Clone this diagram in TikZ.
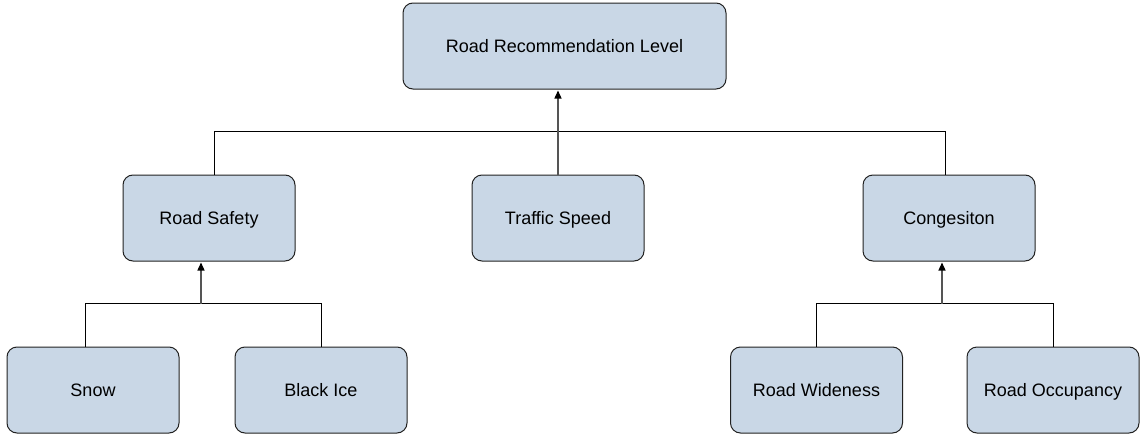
\documentclass[tikz,border=0pt]{standalone}
\usepackage{fontspec}
\setmainfont{Liberation Sans}
\usetikzlibrary{arrows.meta}
\definecolor{boxfill}{HTML}{C9D7E6}
\definecolor{boxline}{HTML}{222222}
\definecolor{arrowline}{HTML}{555555}
\begin{document}
\begin{tikzpicture}[x=1pt,y=1pt,
  box/.style={draw=boxline, fill=boxfill, line width=1pt, rounded corners=10pt,
    minimum width=172pt, minimum height=86pt, inner sep=0pt,
    text height=13pt, text depth=0pt, font=\fontsize{18}{21}\selectfont},
  bus/.style={draw=black, line width=1pt},
  feed/.style={draw=arrowline, line width=1.3pt,
    -{Triangle[length=8pt,width=7pt,color=black]}, shorten >=1pt}]
\useasboundingbox (0,0) rectangle (1144,-434);
\fill[white] (0,0) rectangle (1144,-434);

% top level
\node[box, minimum width=323pt] (top) at (564.5,-46) {Road Recommendation Level};
% middle level
\node[box] (safety) at (209,-218) {Road Safety};
\node[box] (speed)  at (558,-218) {Traffic Speed};
\node[box] (cong)   at (949,-218) {Congesiton};
% bottom level
\node[box] (snow) at (93,-390)    {Snow};
\node[box] (ice)  at (321,-390)   {Black Ice};
\node[box] (wide) at (816.5,-390) {Road Wideness};
\node[box] (occ)  at (1053,-390)  {Road Occupancy};

% bus joining the middle level
\coordinate (busL) at ([xshift=5pt]safety.north);
\coordinate (busR) at ([xshift=-4pt]cong.north);
\path[bus] (busL) -- ++(0,43) -| (busR);
\path[feed] (speed.north) -- (speed.north |- top.south);

% bus joining snow and black ice
\coordinate (snowT) at ([xshift=-8pt]snow.north);
\coordinate (safetyB) at ([xshift=-8pt]safety.south);
\path[bus] (snowT) -- ++(0,43) -| (ice.north);
\path[feed] (safetyB |- 0,-304) -- (safetyB);

% bus joining wideness and occupancy
\coordinate (congB) at ([xshift=-7pt]cong.south);
\path[bus] (wide.north) -- ++(0,43) -| (occ.north);
\path[feed] (congB |- 0,-304) -- (congB);
\end{tikzpicture}
\end{document}
